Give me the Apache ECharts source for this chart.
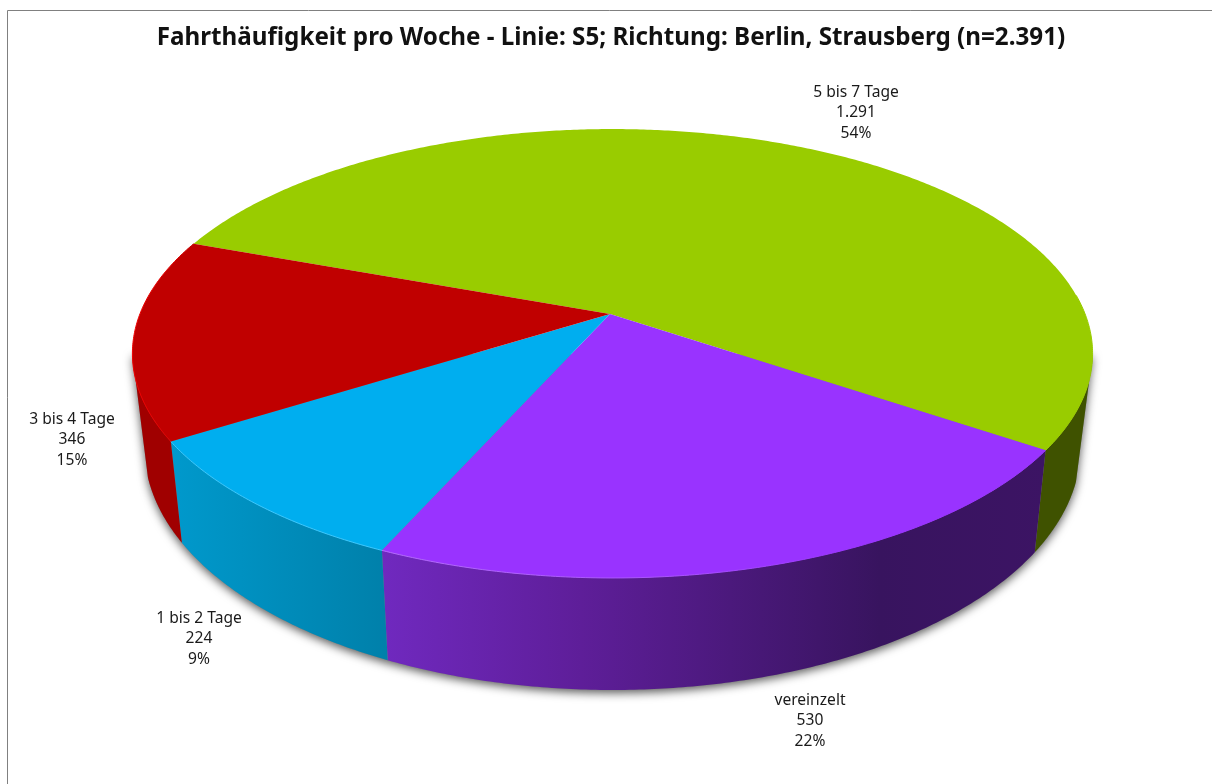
<!DOCTYPE html>
<html>
<head>
<meta charset="utf-8">
<title>Fahrthäufigkeit pro Woche</title>
<style>
	html, body { margin: 0; padding: 0; background: #fff; }
	#chart { width: 1212px; height: 784px; }
</style>
<script src="https://cdn.jsdelivr.net/npm/echarts@6/dist/echarts.min.js"></script>
</head>
<body>
<div id="chart"></div>
<script>
const chart = echarts.init(document.getElementById("chart"));

const titleText = "Fahrthäufigkeit pro Woche - Linie: S5; Richtung: Berlin, Strausberg (n=2.391)";
const categories = ["5 bis 7 Tage", "vereinzelt", "1 bis 2 Tage", "3 bis 4 Tage"];
const counts = [1291, 530, 224, 346];
const shareLabels = ["54%", "22%", "9%", "15%"];

// look of each slice, same order as categories
const topColors = ["#99cc00", "#9933ff", "#00aeef", "#c00000"];
const rimStops = [
	[[0, "#99cc00"], [1, "#99cc00"]],
	[[0, "#b469ff"], [0.45, "#a850ff"], [0.7, "#9933ff"], [1, "#9933ff"]],
	[[0, "#38c8ff"], [1, "#38c8ff"]],
	[[0, "#f00000"], [0.7, "#e00000"], [1, "#c00000"]]
];
const wallStops = [
	[[0, "#3f5200"], [1, "#3f5200"]],
	[[0, "#7029bf"], [0.3, "#5e1e99"], [0.75, "#38145f"], [1, "#3c1464"]],
	[[0, "#0099cc"], [1, "#0080aa"]],
	[[0, "#a00000"], [1, "#a00000"]]
];
const labelSpots = [[856, 113], [810, 721], [199, 639], [72, 440]];

// pie geometry: a tilted circle under a slight perspective
const startAngle = 200;
const apex = [610, 314];
const pieX = 612.5, pieY = 314;
const radX = 472.6, radY = 217.5, tilt = 0.176;
// where the silhouette leaves the top face, on the right and on the left
const edgeRight = 10.3, edgeLeft = 169.7;
const lowerRight = 18, lowerLeft = 163;

const total = counts.reduce((a, b) => a + b, 0);
const angles = [];
let running = startAngle;
counts.forEach(v => {
	const sweep = v / total * 360;
	angles.push([running, running + sweep]);
	running += sweep;
});

function topPoint(deg) {
	const r = deg * Math.PI / 180;
	const d = 1 - tilt * Math.sin(r);
	return [pieX + radX * Math.cos(r) / d, pieY + radY * Math.sin(r) / d];
}

function bottomPoint(deg) {
	const p = topPoint(deg);
	const s = Math.abs(Math.sin(deg * Math.PI / 180));
	const scale = Math.max(0.975, 0.995 - 0.07 * s);
	return [pieX + (p[0] - pieX) * scale, p[1] + 102 + (p[1] - 451) * 0.079];
}

function arc(fn, from, to) {
	const pts = [];
	const n = Math.max(2, Math.ceil(Math.abs(to - from) * 2));
	for (let i = 0; i <= n; i++) pts.push(fn(from + (to - from) * i / n));
	return pts;
}

// angles as seen on the front of the pie (the green slice wraps past 360)
function frontRange(i) {
	let a = angles[i][0], b = angles[i][1];
	if (b > 360) {
		a -= 360;
		b -= 360;
	}
	return [a, b];
}

function xGradient(pts, stops) {
	const xs = pts.map(p => p[0]);
	const x0 = Math.min.apply(null, xs), x1 = Math.max.apply(null, xs);
	return new echarts.graphic.LinearGradient(x0, 0, x1, 0,
		stops.map(s => ({ offset: s[0], color: s[1] })), true);
}

function renderWall(params) {
	const i = params.dataIndex;
	const range = frontRange(i);
	const upper = arc(topPoint, Math.max(range[0], edgeRight), Math.min(range[1], edgeLeft));
	const lower = arc(bottomPoint, Math.max(range[0], lowerRight), Math.min(range[1], lowerLeft)).reverse();
	const points = upper.concat(lower);
	return {
		type: "polygon",
		shape: { points: points },
		style: { fill: xGradient(points, wallStops[i]), stroke: null }
	};
}

function renderTop(params) {
	const i = params.dataIndex;
	const a = angles[i];
	const outer = arc(topPoint, a[0], a[1]);
	const range = frontRange(i);
	const rim = arc(topPoint, Math.max(range[0], -5), range[1]);
	return {
		type: "group",
		children: [
			{
				type: "polygon",
				shape: { points: [apex].concat(outer) },
				style: { fill: topColors[i], stroke: null }
			},
			{
				type: "polyline",
				shape: { points: rim },
				style: { fill: null, stroke: xGradient(rim, rimStops[i]), lineWidth: 1 }
			},
			{
				type: "text",
				style: {
					x: labelSpots[i][0],
					y: labelSpots[i][1],
					text: categories[i] + "\n" + counts[i].toLocaleString("de-DE") + "\n" + shareLabels[i],
					align: "center",
					verticalAlign: "middle",
					fill: "#1a1a1a",
					font: '15.6px "Noto Sans"',
					lineHeight: 20.5
				}
			}
		]
	};
}

function renderShadow() {
	const points = [topPoint(edgeRight)]
		.concat(arc(bottomPoint, lowerRight, lowerLeft))
		.concat([topPoint(edgeLeft)]);
	return {
		type: "polygon",
		shape: { points: points },
		style: {
			fill: "#808080",
			shadowBlur: 10,
			shadowOffsetY: 3,
			shadowColor: "rgba(0,0,0,0.65)"
		}
	};
}

const option = {
	backgroundColor: "#ffffff",
	animation: false,
	title: {
		text: titleText,
		left: 606,
		top: 21,
		textAlign: "center",
		textStyle: {
			color: "#111111",
			fontFamily: "Noto Sans",
			fontWeight: "bold",
			fontSize: 24.2
		}
	},
	graphic: [{
		type: "polyline",
		shape: { points: [[7.5, 784], [7.5, 10.5], [1212, 10.5]] },
		style: { fill: null, stroke: "#808080", lineWidth: 1 }
	}],
	series: [
		{ type: "custom", coordinateSystem: "none", z: 1, renderItem: renderShadow, data: [0], silent: true },
		{ type: "custom", coordinateSystem: "none", z: 2, renderItem: renderWall, data: counts, silent: true },
		{ type: "custom", coordinateSystem: "none", z: 3, renderItem: renderTop, data: counts, silent: true }
	]
};

chart.setOption(option);
window.onresize = chart.resize;
</script>
</body>
</html>
